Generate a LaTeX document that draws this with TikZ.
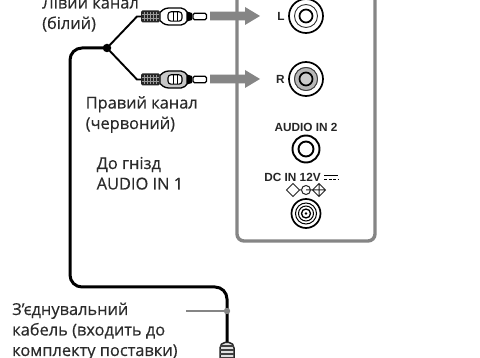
\documentclass[tikz,border=0pt]{standalone}
\usepackage{fontspec}
\setmainfont[FakeBold=0.35]{Open Sans}
\newfontfamily\labelfont{Liberation Sans}
\definecolor{txt}{gray}{0.17}
\definecolor{pan}{gray}{0.52}
\definecolor{arr}{gray}{0.52}
\tikzset{
 capt/.style={anchor=base west,inner sep=0pt,text=txt,font=\fontsize{16.4pt}{20pt}\selectfont},
 smalllab/.style={anchor=base,inner sep=0pt,text=black!85,font=\labelfont\bfseries\fontsize{11.8pt}{13pt}\selectfont},
 cable/.style={draw=black,line width=3pt,rounded corners=12pt},
 thin cable/.style={draw=black,line width=1.9pt},
 ring/.style={draw=black,line width=1.7pt,fill=none},
 pointer/.style={fill=arr,draw=none},
 hub/.style={circle,fill=black,minimum size=8.5pt,inner sep=0pt},
}
\newcommand{\rcaplug}[3]{%
 \begin{scope}[shift={(#1,#2)}]
  \fill[black!85,rounded corners=1.5pt] (0,-6) rectangle (19,6);
  \foreach \q in {3,6,...,18}{\draw[white!60!black,line width=.7pt] (\q,-4.5)--(\q,4.5);}
  \draw[white!60!black,line width=.6pt] (1,-1.8)--(19,-1.8) (1,1.8)--(19,1.8);
  \draw[black,line width=1.3pt,fill=#3] (19,-4) .. controls (23,-8.5) and (26,-8.5) .. (30,-8.5) -- (40,-8.5) .. controls (43,-8.5) and (45,-6) .. (46,-4.5) -- (46,4.5) .. controls (45,6) and (43,8.5) .. (40,8.5) -- (30,8.5) .. controls (26,8.5) and (23,8.5) .. (19,4) -- cycle;
  \draw[black,line width=1.1pt,fill=white,rounded corners=3pt] (27,-4.7) rectangle (41,4.7);
  \draw[black,line width=.8pt] (32,-4.7)--(32,4.7) (36,-4.7)--(36,4.7);
  \fill[black] (46,-5) -- (51,-3.5) -- (51,3.5) -- (46,5) -- cycle;
  \draw[black,line width=1.2pt,fill=white,rounded corners=1.5pt] (52,-3.2) rectangle (65.5,3.2);
 \end{scope}}
\newcommand{\graybolt}[1]{%
 \fill[pointer] (210,#1-4.3) -- (245,#1-4.3) -- (245,#1-9) -- (260,#1) -- (245,#1+9) -- (245,#1+4.3) -- (210,#1+4.3) -- cycle;}
\begin{document}
\begin{tikzpicture}[x=1pt,y=-1pt]
\path[use as bounding box] (0,0) rectangle (480,358);
\clip (0,0) rectangle (480,358);
\fill[white] (0,0) rectangle (480,358);
% panel
\draw[pan,line width=3.4pt,rounded corners=7pt] (237,-8) -- (237,241) -- (375,241) -- (375,-8);
% arrows
\graybolt{16}
\graybolt{79}
% cable
\node[hub] (hub) at (107,48) {};
\coordinate (lp) at (141,16.5);
\coordinate (rp) at (141,79.5);
\coordinate (plugb) at (227,344);
\coordinate (leadstart) at (186,311);
\coordinate (leadend) at (227,311);
\draw[cable] (hub.center) -- (70,48) -- (70,287) -- (227,287) -- (plugb);
\draw[thin cable] (hub.center) -- (137,16.5) -- (lp);
\draw[thin cable] (hub.center) -- (137,79.5) -- (rp);
\rcaplug{141}{16.5}{white}
\rcaplug{141}{79.5}{black!22}
% leader
\draw[pan,line width=2.6pt] (leadstart) -- (leadend);
\fill[pan] (leadend) circle (3.2pt);
% bottom plug
\draw[black!85,line width=1.5pt,fill=black!12,rounded corners=2pt] (220,364) -- (220,346) -- (223,342.5) -- (231,342.5) -- (234,346) -- (234,364);
\foreach \q in {346,350,354,358}{\draw[black!75,line width=1.3pt] (220,\q)--(234,\q);}
% jacks
\node[smalllab] (l) at (281,21) {L};
\node[smalllab] (r) at (280.5,84) {R};
\foreach \c/\a/\b/\d in {16/17/11.5/6.5,79/17/11.5/6.5}{
 \draw[ring] (306,\c) circle (\a);
 \draw[black!80,line width=.9pt] (306,\c) circle (\b);
 \draw[ring] (306,\c) circle (\d);}
\fill[black!28] (306,79) circle (11.5);
\draw[black!75,line width=.9pt] (306,79) circle (11.5);
\draw[ring,fill=black!20] (306,79) circle (6.5);
\node[smalllab] (a2) at (306,132) {AUDIO IN 2};
\draw[ring,line width=1.9pt] (306,149) circle (13.5);
\draw[ring,line width=1.9pt] (306,149) circle (7.5);
\node[smalllab] (dc) at (292.5,181.5) {DC IN 12V};
\draw[black,line width=1.3pt] (324,175.5) -- (338,175.5);
\draw[black,line width=1.3pt,dash pattern=on 3pt off 1.5pt] (324,179.8) -- (338,179.8);
\draw[black!85,line width=1pt] (286.5,190) -- (293,183.5) -- (299.5,190) -- (293,196.5) -- cycle;
\draw[black!85,line width=1pt] (312.5,190) -- (319,183.5) -- (325.5,190) -- (319,196.5) -- cycle (312.5,190)--(325.5,190) (319,183.5)--(319,196.5);
\draw[black!85,line width=1pt] (306,190) circle (4.5) (299.5,190)--(301,190) (306,190)--(312.5,190);
\draw[ring] (306,213.5) circle (14.5);
\draw[black,line width=1pt] (306,213.5) circle (10.5);
\draw[black,line width=1pt] (306,213.5) circle (7.5);
\draw[black,line width=1.3pt] (306,213.5) circle (4.5);
\fill[black] (306,213.5) circle (1.3);
% labels
\node[capt] (t1) at (42,8.5) {Лівий канал};
\node[capt] (t2) at (42,29) {(білий)};
\node[capt] (t3) at (85.5,108.5) {Правий канал};
\node[capt] (t4) at (85.5,129) {(червоний)};
\node[capt] (t5) at (96.5,169) {До гнізд};
\node[capt] (t6) at (96.5,189.5) {AUDIO IN 1};
\node[capt] (t7) at (12,315) {З’єднувальний};
\node[capt] (t8) at (12,335.5) {кабель (входить до};
\node[capt] (t9) at (12,356) {комплекту поставки)};
\end{tikzpicture}
\end{document}
